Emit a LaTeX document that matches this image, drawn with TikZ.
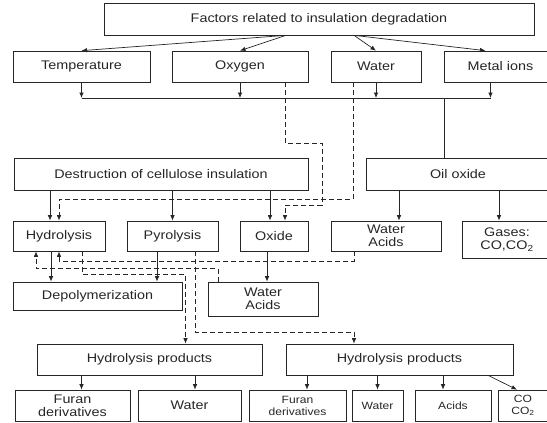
\documentclass[tikz,border=0pt]{standalone}
\usepackage{fontspec}
\setmainfont{Liberation Sans}[FakeStretch=1.15]
\usetikzlibrary{arrows.meta}

\tikzset{
  box/.style={draw=black!85, rectangle, inner sep=1pt, align=center, line width=0.7pt,
    text=black!85, font=\fontsize{12.5}{13}\selectfont},
  smallbox/.style={box, font=\fontsize{10.5}{12}\selectfont},
  arr/.style={-{Latex[length=5.5pt,width=4.5pt]}, line width=0.7pt, draw=black!85},
  darr/.style={arr, dash pattern=on 5pt off 3pt},
}

\begin{document}
\begin{tikzpicture}[x=1pt,y=1pt]
\useasboundingbox (0,0) rectangle (547,-423);
   \node [box,minimum width=430,minimum height=32] at (319,-19) (factors) {Factors related to insulation degradation};
    \node [box,minimum width=137,minimum height=31] at (81.5,-66.5) (temp) {Temperature};
     \node [box,minimum width=136,minimum height=31] at (240,-66.5) (oxy) {Oxygen};
      \node [box,minimum width=90,minimum height=31] at (376,-66.5) (water) {Water};
       \node [box,minimum width=113,minimum height=31] at (500.5,-66.5) (metal) {Metal ions};
        \node [box,minimum width=294,minimum height=32] at (161,-174) (destr) {Destruction of cellulose insulation};
         \node [box,minimum width=184,minimum height=32] at (458,-174) (oil) {Oil oxide};
          \node [box,minimum width=92,minimum height=30] at (59,-236) (hydrol) {Hydrolysis};
           \node [box,minimum width=91,minimum height=30] at (172.5,-236) (pyrol) {Pyrolysis};
            \node [box,minimum width=68,minimum height=30] at (274,-236) (oxide) {Oxide};
             \node [box,minimum width=110,minimum height=30] at (386,-236) (wacR) {Water\\Acids};
              \node [box,minimum width=90,minimum height=37] at (507,-239.5) (gases) {Gases:\\CO,CO\textsubscript{2}};
               \node [box,minimum width=169,minimum height=28] at (97.5,-296) (depol) {Depolymerization};
                \node [box,minimum width=110,minimum height=34] at (263,-299) (wacM) {Water\\Acids};
                 \node [box,minimum width=225,minimum height=31] at (149.5,-359.5) (hpL) {Hydrolysis products};
                  \node [box,minimum width=227,minimum height=31] at (399.5,-359.5) (hpR) {Hydrolysis products};
                   \node [box,minimum width=115,minimum height=31] at (72.5,-405.5) (furL) {Furan\\derivatives};
                    \node [box,minimum width=103,minimum height=31] at (189.5,-405.5) (watL) {Water};
                     \node [smallbox,minimum width=97,minimum height=31] at (297.5,-405.5) (furR) {Furan\\derivatives};
                      \node [smallbox,minimum width=51,minimum height=31] at (377.5,-405.5) (watR) {Water};
                       \node [smallbox,minimum width=76,minimum height=31] at (453,-405.5) (acids) {Acids};
                        \node [smallbox,minimum width=50,minimum height=31] at (523,-405.5) (co) {CO\\CO\textsubscript{2}};
%
% end points of the connectors
\coordinate (bus) at (0,-98);
\coordinate (fl) at ([xshift=-33pt]factors.south);
\coordinate (fr) at ([xshift=35pt]factors.south);
\coordinate (m1) at ([xshift=-15pt]metal.north);
\coordinate (m2) at ([xshift=-10pt]metal.south);
\coordinate (o1) at ([xshift=-14pt]oil.north);
\coordinate (h1) at ([xshift=-9pt]hydrol.north);
\coordinate (x1) at ([xshift=-4pt]oxide.north);
\coordinate (x2) at ([xshift=11pt]oxide.north);
\coordinate (ws) at ([xshift=-23pt]water.south);
\coordinate (w1) at ([xshift=13pt]wacR.north);
\coordinate (g1) at ([xshift=-8pt]gases.north);
\coordinate (h2) at ([xshift=-8pt]hydrol.south);
\coordinate (h3) at ([xshift=-23pt]hydrol.south);
\coordinate (h4) at ([xshift=23pt]hydrol.south);
\coordinate (p1) at ([xshift=-15.5pt]pyrol.south);
\coordinate (p2) at ([xshift=22.5pt]pyrol.south);
\coordinate (x3) at ([xshift=-7pt]oxide.south);
\coordinate (a1) at ([xshift=-45pt]wacM.north);
\coordinate (b1) at ([xshift=-32pt]wacR.south);
\coordinate (c2) at ([xshift=36pt]hpL.north);
\coordinate (d2) at ([xshift=-45.5pt]hpR.north);
\coordinate (f1) at ([xshift=9pt]furL.north);
\coordinate (f2) at ([xshift=5.5pt]watL.north);
\coordinate (f3) at ([xshift=9.5pt]furR.north);
\coordinate (f4) at ([xshift=-10pt]acids.north);
\coordinate (c3) at ([xshift=88.5pt]hpR.south);
\coordinate (c4) at ([xshift=-6pt]co.north);
%
\draw[arr] (fl) -- (temp.north);
\draw[arr] (fl) -- (oxy.north);
\draw[arr] (fr) -- (water.north);
\draw[arr] (fr) -- (m1);
\draw[arr] (temp.south) -- (temp.south |- bus);
\draw[arr] (oxy.south) -- (oxy.south |- bus);
\draw[arr] (water.south) -- (water.south |- bus);
\draw[arr] (m2) -- (m2 |- bus);
\draw[arr,-] (temp.south |- bus) -- (m2 |- bus);
\draw[arr,-] (o1 |- bus) -- (o1);
%
\draw[arr] (h1 |- destr.south) -- (h1);
\draw[arr] (pyrol.north |- destr.south) -- (pyrol.north);
\draw[arr] (x1 |- destr.south) -- (x1);
\draw[arr] (w1 |- oil.south) -- (w1);
\draw[arr] (g1 |- oil.south) -- (g1);
\draw[darr] (x2 |- oxy.south) -- ++(0,-61) -- ++(37,0) -- ++(0,-62) -| (x2);
\draw[darr] (ws) -- ++(0,-117) -| (hydrol.north);
%
\draw[arr] (h2) -- (h2 |- depol.north);
\draw[arr] (p1) -- (p1 |- depol.north);
\draw[arr] (x3) -- (x3 |- wacM.north);
\draw[darr] (a1) -- ++(0,13) -| (h3);
\draw[darr] (b1) -- ++(0,-10) -| (hydrol.south);
\draw[darr] (h4) -- ++(0,-23) -| (c2);
\draw[darr] (p2) -- ++(0,-81) -| (d2);
%
\draw[arr] (f1 |- hpL.south) -- (f1);
\draw[arr] (f2 |- hpL.south) -- (f2);
\draw[arr] (f3 |- hpR.south) -- (f3);
\draw[arr] (watR.north |- hpR.south) -- (watR.north);
\draw[arr] (f4 |- hpR.south) -- (f4);
\draw[arr] (c3) -- (c4);

\end{tikzpicture}
\end{document}
